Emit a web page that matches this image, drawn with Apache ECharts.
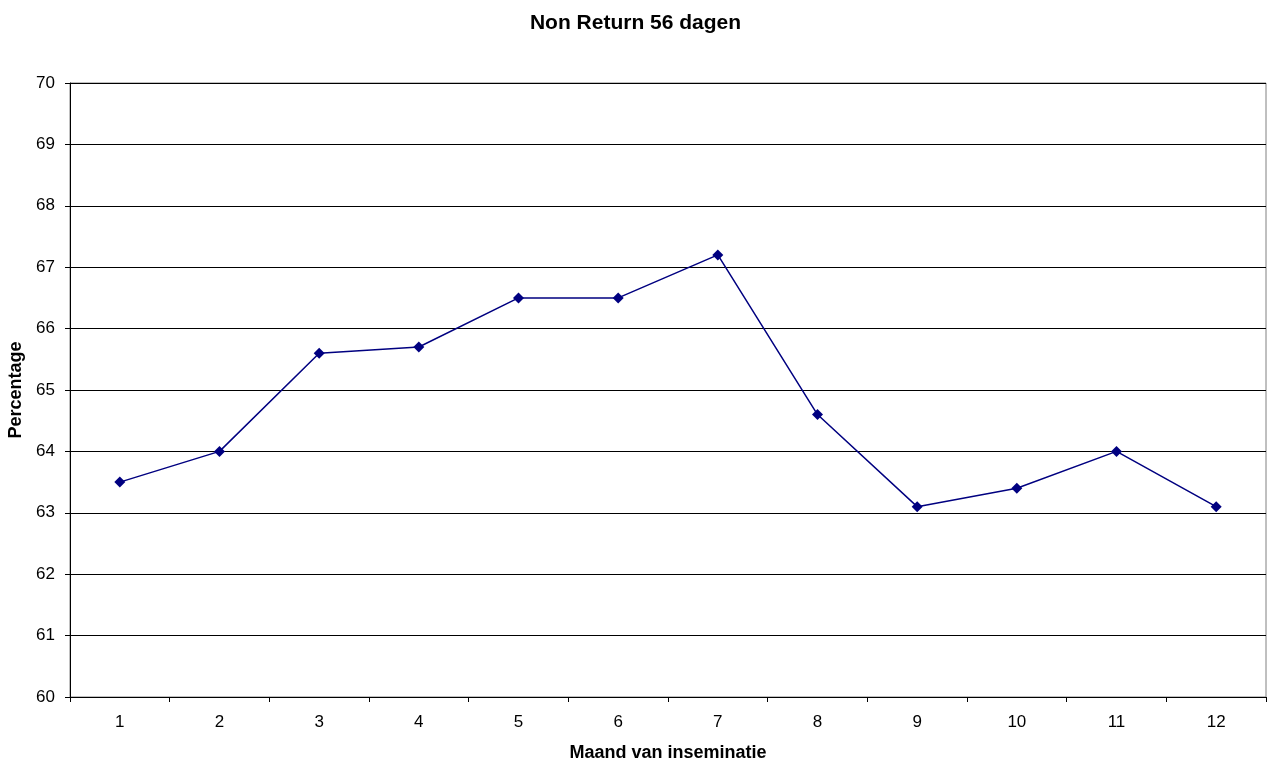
<!DOCTYPE html>
<html><head><meta charset="utf-8">
<script src="https://cdn.jsdelivr.net/npm/echarts@6/dist/echarts.min.js"></script>
<style>html,body{margin:0;padding:0;background:#fff}#c{width:1271px;height:765px}</style>
</head><body><div id="c"></div>
<script>
const categories = ['1','2','3','4','5','6','7','8','9','10','11','12'];
const values = [63.5, 64.0, 65.6, 65.7, 66.5, 66.5, 67.2, 64.6, 63.1, 63.4, 64.0, 63.1];
const chart = echarts.init(document.getElementById('c'));
chart.setOption({
  animation: false,
  backgroundColor: '#fff',
  title: { text: 'Non Return 56 dagen', left: 'center', top: 8,
    textStyle: { fontFamily: 'Liberation Sans, Arial', fontSize: 21, fontWeight: 'bold', color: '#000' } },
  grid: { left: 70, right: 5, top: 83, bottom: 68, outerBoundsMode: 'none', containLabel: false,
    show: true, borderColor: '#808080', borderWidth: 1 },
  xAxis: { type: 'category', data: categories, boundaryGap: true,
    name: 'Maand van inseminatie', nameLocation: 'middle', nameGap: 47,
    nameTextStyle: { fontFamily: 'Liberation Sans, Arial', fontSize: 18, fontWeight: 'bold', color: '#000' },
    axisLine: { lineStyle: { color: '#000', width: 1 } },
    axisTick: { show: true, length: 5, lineStyle: { color: '#000' } },
    axisLabel: { fontFamily: 'Liberation Sans, Arial', fontSize: 17, color: '#000', margin: 17 },
    splitLine: { show: false } },
  yAxis: { type: 'value', min: 60, max: 70, interval: 1,
    name: 'Percentage', nameLocation: 'middle', nameGap: 44, nameRotate: 90,
    nameTextStyle: { fontFamily: 'Liberation Sans, Arial', fontSize: 18, fontWeight: 'bold', color: '#000' },
    axisLine: { show: true, lineStyle: { color: '#000', width: 1 } },
    axisTick: { show: true, length: 5, lineStyle: { color: '#000' } },
    axisLabel: { fontFamily: 'Liberation Sans, Arial', fontSize: 17, color: '#000', margin: 15 },
    splitLine: { show: true, lineStyle: { color: '#000', width: 1 } } },
  series: [{ type: 'line', data: values, symbol: 'diamond', symbolSize: 11,
    lineStyle: { color: '#000080', width: 1.5 }, itemStyle: { color: '#000080' } }]
});
</script></body></html>
